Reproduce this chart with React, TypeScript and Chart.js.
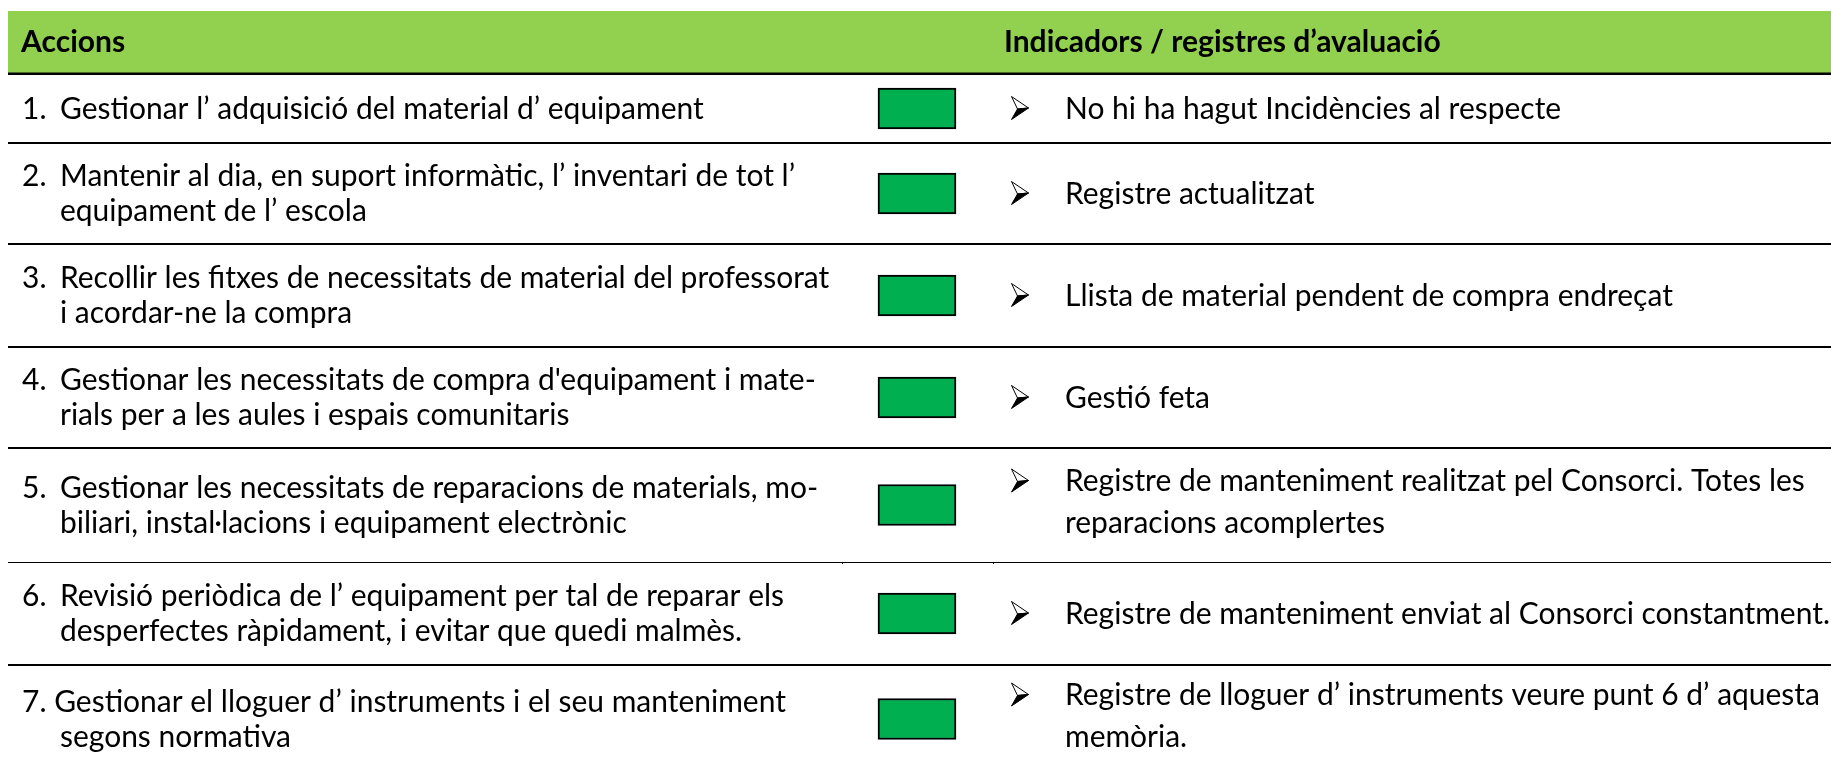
import React, { useEffect, useRef } from "react";
import { Chart, registerables } from "chart.js";

Chart.register(...registerables);

// ---------- data ----------
const headerTitles = ["Accions", "Indicadors / registres d’avaluació"];

const actionNumbers = ["1.", "2.", "3.", "4.", "5.", "6.", ""];

const actionLines: string[][] = [
  ["Gestionar l’ adquisició del material d’ equipament"],
  ["Mantenir al dia, en suport informàtic, l’ inventari de tot l’", "equipament de l’ escola"],
  ["Recollir les fitxes de necessitats de material del professorat", "i acordar-ne la compra"],
  ["Gestionar les necessitats de compra d'equipament i mate-", "rials per a les aules i espais comunitaris"],
  ["Gestionar les necessitats de reparacions de materials, mo-", "biliari, instal·lacions i equipament electrònic"],
  ["Revisió periòdica de l’ equipament per tal de reparar els", "desperfectes ràpidament, i evitar que quedi malmès."],
  ["7. Gestionar el lloguer d’ instruments i el seu manteniment", "segons normativa"],
];

const indicatorLines: string[][] = [
  ["No hi ha hagut Incidències al respecte"],
  ["Registre actualitzat"],
  ["Llista de material pendent de compra endreçat"],
  ["Gestió feta"],
  ["Registre de manteniment realitzat pel Consorci. Totes les", "reparacions acomplertes"],
  ["Registre de manteniment enviat al Consorci constantment."],
  ["Registre de lloguer d’ instruments veure punt 6 d’ aquesta", "memòria."],
];

const statusValues = ["assolit", "assolit", "assolit", "assolit", "assolit", "assolit", "assolit"];

// ---------- layout / style ----------
const W = 1831;
const H = 757;
const TABLE_LEFT = 8;
const HEADER_TOP = 11;
const HEADER_BOTTOM = 74;
const ROW_HEIGHTS = [69, 101, 103, 101, 114, 103, 108];
const LINE_WIDTHS = [2, 2, 2, 2, 1, 2];
const STATUS_COL: [number, number] = [878, 956];
const STATUS_BAR_PX = 41;
const NUM_X = 22;
const ACTION_X = 60;
const ARROW_X = 1020;
const IND_X = 1065;
const IND_HEADER_X = 1004;
const HEADER_X = 21;
const HEADER_BASELINE = 52;
const LEFT_LEADING = 35;
const RIGHT_LEADING = 42;
const RIGHT_OFFSET = -3;
const TEXT_NUDGE = -1;
const FIT_WIDTH_BODY = 644;
const FIT_WIDTH_HEAD = 437;
const FONT = "Lato, 'Open Sans', sans-serif";
const HEADER_BG = "#92D050";
const STATUS_COLORS: Record<string, string> = { assolit: "#00B050" };
const TEXT = "#000000";

function rowBounds() {
  const out: { top: number; bottom: number; center: number }[] = [];
  let top = HEADER_BOTTOM;
  for (const h of ROW_HEIGHTS) {
    out.push({ top, bottom: top + h, center: top + h / 2 });
    top += h;
  }
  return out;
}

function drawArrow(ctx: CanvasRenderingContext2D, cx: number, baseline: number, capH: number) {
  const w = 17;
  const h = capH + 1;
  const top = baseline - capH;
  const midY = top + h / 2;
  const tip = [cx + w / 2, midY];
  const tb = [cx - w / 2, top];
  const bb = [cx - w / 2, top + h];
  const notch = [cx - w / 2 + 6, midY + 1];
  ctx.save();
  ctx.lineJoin = "miter";
  ctx.lineWidth = 1;
  ctx.strokeStyle = "#000";
  ctx.beginPath();
  ctx.moveTo(tb[0], tb[1]);
  ctx.lineTo(tip[0], tip[1]);
  ctx.lineTo(notch[0], notch[1]);
  ctx.closePath();
  ctx.fillStyle = "#fff";
  ctx.fill();
  ctx.stroke();
  ctx.beginPath();
  ctx.moveTo(notch[0], notch[1]);
  ctx.lineTo(tip[0], tip[1]);
  ctx.lineTo(bb[0], bb[1]);
  ctx.closePath();
  ctx.fillStyle = "#000";
  ctx.fill();
  ctx.stroke();
  ctx.restore();
}

const tablePlugin = {
  id: "tableLayout",
  beforeDatasetsDraw(chart: any) {
    const ctx: CanvasRenderingContext2D = chart.ctx;
    const xs = chart.scales.x;
    const ys = chart.scales.y;
    const x0 = xs.getPixelForValue(TABLE_LEFT);
    const x1 = xs.getPixelForValue(W);
    ctx.save();
    ctx.fillStyle = "#ffffff";
    ctx.fillRect(0, 0, W, H);
    const hy0 = ys.getPixelForValue(HEADER_TOP);
    const hy1 = ys.getPixelForValue(HEADER_BOTTOM);
    ctx.fillStyle = HEADER_BG;
    ctx.fillRect(x0, hy0, x1 - x0, hy1 - hy0);
    ctx.fillStyle = "#000";
    ctx.fillRect(x0, hy1 - 1.5, x1 - x0, 2.5);
    const rows = rowBounds();
    rows.forEach((r, i) => {
      if (i >= LINE_WIDTHS.length) return;
      const lw = LINE_WIDTHS[i];
      const y = ys.getPixelForValue(r.bottom);
      ctx.fillRect(x0, Math.round(y - lw / 2), x1 - x0, lw);
      if (lw === 1) {
        ctx.fillRect(xs.getPixelForValue(842), Math.round(y), 1, 2);
        ctx.fillRect(xs.getPixelForValue(993), Math.round(y), 1, 2);
      }
    });
    ctx.restore();
  },
  afterDatasetsDraw(chart: any) {
    const ctx: CanvasRenderingContext2D = chart.ctx;
    const xs = chart.scales.x;
    const ys = chart.scales.y;
    ctx.save();
    ctx.font = `100px ${FONT}`;
    const bodySize = (100 * FIT_WIDTH_BODY) / ctx.measureText(actionLines[0][0]).width;
    ctx.font = `bold 100px ${FONT}`;
    const headSize = (100 * FIT_WIDTH_HEAD) / ctx.measureText(headerTitles[1]).width;

    ctx.fillStyle = TEXT;
    ctx.textBaseline = "alphabetic";
    ctx.textAlign = "left";

    ctx.font = `bold ${headSize}px ${FONT}`;
    const hb = ys.getPixelForValue(HEADER_BASELINE);
    ctx.fillText(headerTitles[0], xs.getPixelForValue(HEADER_X), hb);
    ctx.fillText(headerTitles[1], xs.getPixelForValue(IND_HEADER_X), hb);

    ctx.font = `${bodySize}px ${FONT}`;
    const capH = ctx.measureText("H").actualBoundingBoxAscent;
    const rows = rowBounds();
    rows.forEach((r, i) => {
      const c = ys.getPixelForValue(r.center) + TEXT_NUDGE;
      const al = actionLines[i];
      const b = c + capH / 2 - ((al.length - 1) * LEFT_LEADING) / 2;
      if (actionNumbers[i]) ctx.fillText(actionNumbers[i], xs.getPixelForValue(NUM_X), b);
      al.forEach((t, k) => {
        const x = k === 0 && !actionNumbers[i] ? NUM_X : ACTION_X;
        ctx.fillText(t, xs.getPixelForValue(x), b + k * LEFT_LEADING);
      });
      const il = indicatorLines[i];
      const rb = c + capH / 2 - ((il.length - 1) * RIGHT_LEADING) / 2 + (il.length > 1 ? RIGHT_OFFSET : 0);
      drawArrow(ctx, xs.getPixelForValue(ARROW_X), rb, capH);
      ctx.fillStyle = TEXT;
      il.forEach((t, k) => {
        ctx.fillText(t, xs.getPixelForValue(IND_X), rb + k * RIGHT_LEADING);
      });
    });
    ctx.restore();
  },
};

export default function App() {
  const ref = useRef<HTMLCanvasElement | null>(null);
  useEffect(() => {
    if (!ref.current) return;
    const rows = rowBounds();
    const chart = new Chart(ref.current, {
      type: "bar",
      data: {
        datasets: [
          {
            label: "Estat",
            data: statusValues.map((_, i) => ({ x: STATUS_COL, y: rows[i].center })) as any,
            backgroundColor: statusValues.map((s) => STATUS_COLORS[s]),
            borderColor: "#000000",
            borderWidth: 2,
            borderSkipped: false,
            barThickness: STATUS_BAR_PX,
            grouped: false,
            clip: false,
          } as any,
        ],
      },
      options: {
        indexAxis: "y",
        responsive: false,
        animation: false,
        events: [],
        layout: { padding: 0, autoPadding: false },
        plugins: { legend: { display: false }, tooltip: { enabled: false }, title: { display: false } },
        scales: {
          x: { type: "linear", min: 0, max: W, display: false, offset: false, bounds: "data", grace: 0 },
          y: { type: "linear", min: 0, max: H, reverse: true, display: false, offset: false, bounds: "data", grace: 0 },
        },
      } as any,
      plugins: [tablePlugin],
    });
    return () => chart.destroy();
  }, []);
  return (
    <canvas
      ref={ref}
      width={W}
      height={H}
      style={{ position: "fixed", left: 0, top: 0, width: W, height: H, background: "#fff" }}
    />
  );
}
